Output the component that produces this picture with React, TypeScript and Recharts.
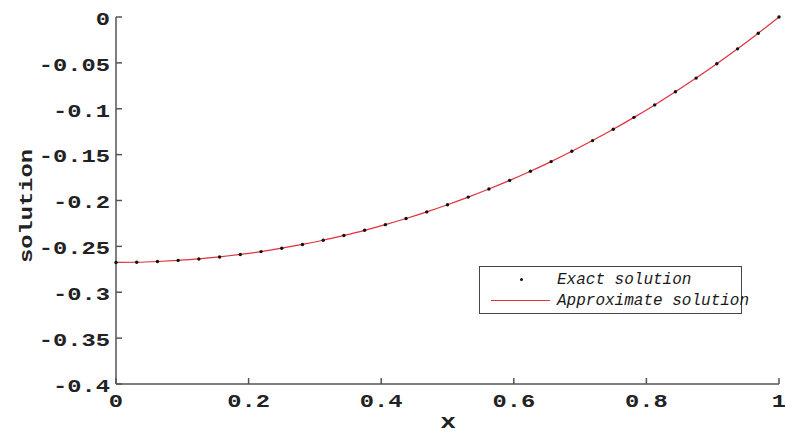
import React from 'react';
import { ComposedChart, Line, XAxis, YAxis, Legend } from 'recharts';

const xValues = [
  0, 0.03125, 0.0625, 0.09375, 0.125, 0.15625, 0.1875, 0.21875, 0.25, 0.28125, 0.3125,
  0.34375, 0.375, 0.40625, 0.4375, 0.46875, 0.5, 0.53125, 0.5625, 0.59375, 0.625,
  0.65625, 0.6875, 0.71875, 0.75, 0.78125, 0.8125, 0.84375, 0.875, 0.90625, 0.9375,
  0.96875, 1,
];

const exactSolution = [
  -0.2675, -0.2673, -0.2665, -0.2653, -0.2637, -0.2615, -0.2588, -0.2557, -0.252, -0.2479,
  -0.2433, -0.2381, -0.2325, -0.2263, -0.2196, -0.2124, -0.2046, -0.1963, -0.1875, -0.1781,
  -0.1681, -0.1576, -0.1464, -0.1347, -0.1224, -0.1094, -0.0958, -0.0815, -0.0666, -0.051,
  -0.0347, -0.0177, 0,
];

const approximateSolution = [
  -0.2675, -0.2673, -0.2665, -0.2653, -0.2637, -0.2615, -0.2588, -0.2557, -0.252, -0.2479,
  -0.2433, -0.2381, -0.2325, -0.2263, -0.2196, -0.2124, -0.2046, -0.1963, -0.1875, -0.1781,
  -0.1681, -0.1576, -0.1464, -0.1347, -0.1224, -0.1094, -0.0958, -0.0815, -0.0666, -0.051,
  -0.0347, -0.0177, 0,
];

const xTicks = [0, 0.2, 0.4, 0.6, 0.8, 1];
const xTickLabels = ['0', '0.2', '0.4', '0.6', '0.8', '1'];
const yTicks = [-0.4, -0.35, -0.3, -0.25, -0.2, -0.15, -0.1, -0.05, 0];
const yTickLabels = ['-0.4', '-0.35', '-0.3', '-0.25', '-0.2', '-0.15', '-0.1', '-0.05', '0'];

const data = xValues.map((x, i) => ({
  x,
  exact: exactSolution[i],
  approx: approximateSolution[i],
}));

const FONT = '"Liberation Mono", "DejaVu Sans Mono", monospace';
const AXIS = '#555';

const YTick = (props: any) => {
  const { x, y, index } = props;
  return (
    <text
      transform={`translate(${x},${y + 2.5}) scale(1.25,1)`}
      textAnchor="end"
      dominantBaseline="central"
      fontFamily={FONT}
      fontWeight="bold"
      fontSize={19}
      fill="#222"
    >
      {yTickLabels[index]}
    </text>
  );
};

const XTick = (props: any) => {
  const { x, y, index } = props;
  return (
    <text
      transform={`translate(${x},${y}) scale(1.25,1)`}
      textAnchor="middle"
      dominantBaseline="central"
      fontFamily={FONT}
      fontWeight="bold"
      fontSize={19}
      fill="#222"
    >
      {xTickLabels[index]}
    </text>
  );
};

const YLabel = () => (
  <text
    transform="translate(27,206) rotate(-90) scale(1.25,1)"
    textAnchor="middle"
    dominantBaseline="central"
    fontFamily={FONT}
    fontWeight="bold"
    fontSize={19}
    fill="#222"
  >
    solution
  </text>
);

const XLabel = () => (
  <text
    transform="translate(448,428) scale(1.25,1)"
    textAnchor="middle"
    fontFamily={FONT}
    fontWeight="bold"
    fontSize={21}
    fill="#222"
  >
    x
  </text>
);

const LegendBox = () => (
  <div
    style={{
      position: 'relative',
      width: 263,
      height: 48,
      border: '1.5px solid #444',
      boxSizing: 'border-box',
      background: '#fff',
      fontFamily: FONT,
      fontStyle: 'italic',
      fontSize: 16,
      color: '#1a1a1a',
      whiteSpace: 'nowrap',
    }}
  >
    <div
      style={{
        position: 'absolute',
        left: 40,
        top: 11,
        width: 3,
        height: 3,
        borderRadius: 2,
        background: '#111',
      }}
    />
    <div style={{ position: 'absolute', left: 77, top: 4, lineHeight: '18px' }}>Exact solution</div>
    <div
      style={{
        position: 'absolute',
        left: 11,
        top: 32.5,
        width: 59,
        height: 1.2,
        background: '#e0313c',
      }}
    />
    <div style={{ position: 'absolute', left: 77, top: 25, lineHeight: '18px' }}>Approximate solution</div>
  </div>
);

export default function App() {
  return (
    <div style={{ position: 'absolute', left: 0, top: 0, width: 785, height: 432, background: '#fff' }}>
      <ComposedChart width={785} height={432} data={data} margin={{ top: 17, right: 6, bottom: 0, left: 0 }}>
        <XAxis
          type="number"
          dataKey="x"
          domain={[0, 1]}
          ticks={xTicks}
          height={48}
          stroke={AXIS}
          strokeWidth={1.5}
          tickSize={-6}
          tickMargin={24}
          tick={<XTick />}
          label={<XLabel />}
        />
        <YAxis
          type="number"
          domain={[-0.4, 0]}
          ticks={yTicks}
          width={116}
          stroke={AXIS}
          strokeWidth={1.5}
          tickSize={-6}
          tickMargin={12}
          tick={<YTick />}
          label={<YLabel />}
        />
        <Legend
          verticalAlign="middle"
          align="center"
          content={() => <LegendBox />}
          wrapperStyle={{ position: 'absolute', left: 479, top: 266, width: 263, height: 48 }}
        />
        <Line
          type="monotone"
          dataKey="approx"
          name="Approximate solution"
          stroke="#e0313c"
          strokeWidth={1.2}
          dot={false}
          isAnimationActive={false}
        />
        <Line
          type="monotone"
          dataKey="exact"
          name="Exact solution"
          stroke="none"
          dot={{ r: 1.7, fill: '#111', stroke: 'none' }}
          isAnimationActive={false}
        />
      </ComposedChart>
    </div>
  );
}
